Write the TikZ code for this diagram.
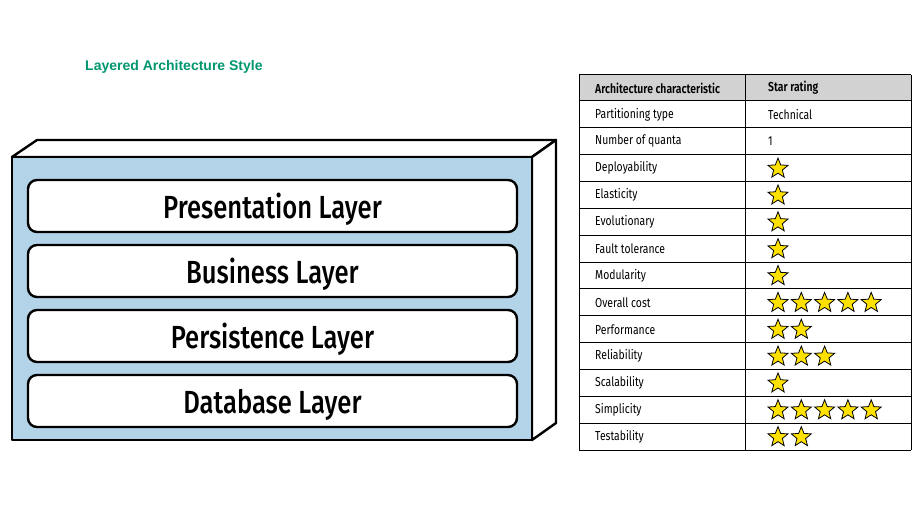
\documentclass[tikz,border=0pt]{standalone}
\usepackage{fontspec}
\usetikzlibrary{shapes.geometric}
\newfontfamily\condf[FakeStretch=0.80]{Fira Sans}
\newfontfamily\condfm[FakeStretch=0.80]{Fira Sans Medium}
\newfontfamily\condfb[FakeStretch=0.80]{Fira Sans SemiBold}
\newfontfamily\titlef{Liberation Sans}
\definecolor{boxblue}{HTML}{B3D3E8}
\definecolor{hdrgray}{HTML}{D2D2D2}
\definecolor{staryellow}{HTML}{FFE100}
\definecolor{titlegreen}{HTML}{00966E}
\tikzset{
  layerbox/.style={draw=black, line width=2.4pt, fill=white, rounded corners=9pt,
    minimum width=489pt, minimum height=52pt, inner sep=0pt, text depth=0pt,
    font=\condfm\fontsize{32}{34}\selectfont},
  cube/.style={draw=black, line width=2.4pt, line join=round},
  cell/.style={anchor=west, inner sep=0pt, font=\condf\fontsize{13}{15}\selectfont},
  hcell/.style={anchor=west, inner sep=0pt, font=\condfb\fontsize{13}{15}\selectfont},
  starmark/.style={star, star points=5, star point ratio=2.3, draw=black, line width=0.8pt,
    fill=staryellow, minimum size=21pt, inner sep=0pt},
  grid/.style={draw=black, line width=1pt}
}
\begin{document}
\begin{tikzpicture}[x=1pt,y=-1pt]
\useasboundingbox (0,0) rectangle (917,510);
% title
\node[anchor=west, inner sep=0pt, text=titlegreen, font=\titlef\bfseries\fontsize{14}{16}\selectfont] (title) at (85,67) {Layered Architecture Style};
% 3D box
\draw[cube, fill=white] (12,157) -- (37,140) -- (556,140) -- (532,157) -- cycle;
\draw[cube, fill=white] (532,157) -- (556,140) -- (556,423) -- (532,440) -- cycle;
\draw[cube, fill=boxblue] (12,157) rectangle (532,440);
% layers
\node[layerbox] (pres) at (272.5,206) {Presentation Layer};
\node[layerbox] (bus) at (272.5,271) {Business Layer};
\node[layerbox] (pers) at (272.5,336) {Persistence Layer};
\node[layerbox] (db) at (272.5,401) {Database Layer};
% table
\fill[hdrgray] (579,75) rectangle (911,101);
\foreach \k in {0,...,13} { \draw[grid] (579,{101+\k*26.85}) -- (911,{101+\k*26.85}); }
\draw[grid] (579,75) -- (911,75);
\draw[grid] (579,75) -- (579,450.05);
\draw[grid] (745,75) -- (745,450.05);
\draw[grid] (911,75) -- (911,450.05);
\node[hcell] (h1) at (595,88) {Architecture characteristic};
\node[hcell] (h2) at (768,88) {Star rating};
\node[cell] (r1) at (595,{101+0.5*26.85}) {Partitioning type};
\node[cell] (v1) at (768,{101+0.5*26.85}) {Technical};
\node[cell] (r2) at (595,{101+1.5*26.85}) {Number of quanta};
\node[cell] (v2) at (768,{101+1.5*26.85}) {1};
\foreach \i/\lab/\n in {3/Deployability/1, 4/Elasticity/1, 5/Evolutionary/1, 6/Fault tolerance/1,
  7/Modularity/1, 8/Overall cost/5, 9/Performance/2, 10/Reliability/3, 11/Scalability/1,
  12/Simplicity/5, 13/Testability/2} {
  \node[cell] (r\i) at (595,{101+(\i-0.5)*26.85}) {\lab};
  \foreach \k in {1,...,\n} {
    \node[starmark] (s\i-\k) at ({778+(\k-1)*23.3},{101+(\i-0.5)*26.85+0.5}) {};
  }
}
\end{tikzpicture}
\end{document}
